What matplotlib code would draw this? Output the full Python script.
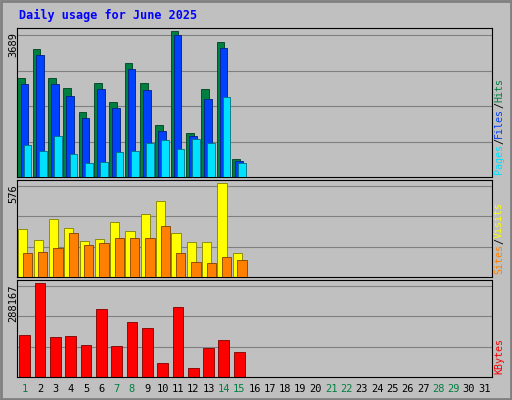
import matplotlib
matplotlib.use("Agg")
import matplotlib.pyplot as plt
from matplotlib.patches import Rectangle

days = list(range(1, 32))
hits = [2502,3234,2502,2249,1642,2375,1895,2881,2375,1314,3689,1112,2224,3411,455]
files = [2350,3083,2350,2047,1491,2224,1744,2729,2198,1162,3588,1036,1971,3260,404]
pages = [809,657,1036,581,354,379,632,657,859,935,708,960,859,2022,354]
visits = [294,225,357,300,219,232,338,282,388,463,269,213,213,576,144]
sites = [144,150,175,269,194,207,238,238,238,313,144,94,88,125,106]
kbytes = [129840,288167,123500,126700,98200,209000,95000,167900,148900,44300,215400,28500,88700,114000,76000]
weekend = [1,7,8,14,15,21,22,28,29]

W, H = 512, 400
fig = plt.figure(figsize=(W/100, H/100), dpi=100)
fig.patch.set_facecolor("#C0C0C0")
mono = "DejaVu Sans Mono"
fig.add_artist(Rectangle((1/W, 1/H), 1-2/W, 1-2/H, transform=fig.transFigure, fill=False, ec="#808080", lw=2))
fig.text(19/W, 1-15/H, "Daily usage for June 2025", color="#0000FF", fontsize=8.5, fontweight="bold", family=mono, va="center")

def mkax(top, bot):
    ax = fig.add_axes([17/W, 1-bot/H, (492-17)/W, (bot-top)/H])
    ax.set_facecolor("#C0C0C0")
    ax.set_xlim(0.5, 31.5)
    ax.set_xticks([]); ax.set_yticks([])
    for s in ax.spines.values():
        s.set_color("#000000"); s.set_linewidth(0.8)
    return ax

def grid(ax, vmax, n=4):
    for i in range(1, n+1):
        ax.axhline(vmax*i/n*0.97, color="#808080", lw=0.8, zorder=0)

def ylabel(ax, top, bot, label):
    fig.text(13/W, 1-(top+4)/H, label, rotation=90, fontsize=7.5, family=mono, ha="center", va="top")

def rlabels(top, bot, parts, fs=7.5):
    y = 1-(bot-3)/H
    step = fs*0.602*100/72
    for txt, col in parts:
        fig.text(499/W, y, txt, rotation=90, fontsize=fs, family=mono, color=col, ha="center", va="bottom")
        y += len(txt)*step/H

# Panel 1
ax1 = mkax(28, 177)
vmax1 = 3689
ax1.set_ylim(0, vmax1*1.02)
grid(ax1, vmax1)
x = list(range(1, len(hits)+1))
ax1.bar([d-0.22 for d in x], hits, width=0.5, color="#008040", ec="#004020", lw=0.6, zorder=2)
ax1.bar([d-0.02 for d in x], files, width=0.5, color="#0040FF", ec="#002080", lw=0.6, zorder=3)
ax1.bar([d+0.18 for d in x], pages, width=0.5, color="#00E0FF", ec="#007080", lw=0.6, zorder=4)
ylabel(ax1, 28, 177, "3689")
rlabels(28, 177, [("Pages", "#00E0FF"), ("/", "#000000"), ("Files", "#0040FF"), ("/", "#000000"), ("Hits", "#008040")], 7.2)

# Panel 2
ax2 = mkax(180, 277)
vmax2 = 576
ax2.set_ylim(0, vmax2*1.03)
grid(ax2, vmax2, 3)
ax2.bar([d-0.12 for d in x], visits, width=0.6, color="#FFFF00", ec="#808000", lw=0.6, zorder=2)
ax2.bar([d+0.18 for d in x], sites, width=0.6, color="#FF8000", ec="#804000", lw=0.6, zorder=3)
ylabel(ax2, 180, 277, "576")
rlabels(180, 277, [("Sites", "#FF8000"), ("/", "#000000"), ("Visits", "#FFFF00")], 7.2)

# Panel 3
ax3 = mkax(280, 377)
vmax3 = 288167
ax3.set_ylim(0, vmax3*1.03)
grid(ax3, vmax3, 3)
ax3.bar(x, kbytes, width=0.7, color="#FF0000", ec="#800000", lw=0.6, zorder=2)
ylabel(ax3, 280, 377, "288167")
rlabels(280, 377, [("KBytes", "#FF0000")], 7.2)

for d in days:
    xf = (17 + (d-0.5)/31*(492-17))/W
    fig.text(xf, 1-389/H, str(d), fontsize=7.5, family=mono, ha="center", va="center",
             color="#008040" if d in weekend else "#000000")

fig.savefig("out.png", dpi=100, facecolor=fig.get_facecolor())
